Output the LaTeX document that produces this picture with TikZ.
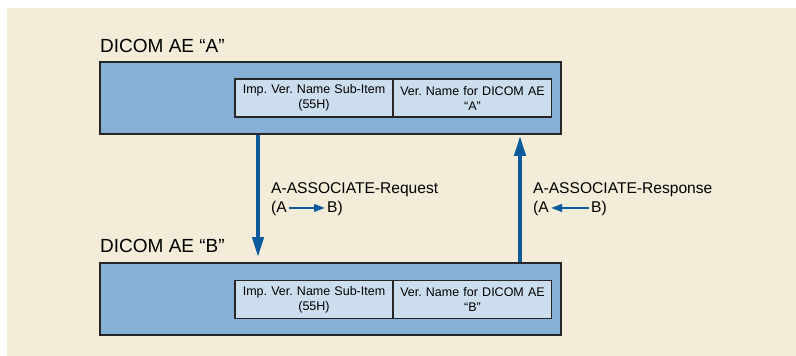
\documentclass[tikz,border=0pt]{standalone}
\usepackage{fontspec}
\setmainfont{Liberation Sans}
\usetikzlibrary{arrows.meta}
\frenchspacing

\definecolor{paper}{HTML}{F2ECD8}
\definecolor{aeblue}{HTML}{86B0D6}
\definecolor{cellblue}{HTML}{CCDDEE}
\definecolor{msgblue}{HTML}{0A5A9C}

\tikzset{
  aebox/.style={draw=black!85, line width=1.6pt, fill=aeblue, minimum width=461pt, minimum height=72pt},
  cell/.style={draw=black!85, line width=1.3pt, fill=cellblue, minimum width=158pt, minimum height=38pt,
    text width=154pt, align=center, inner sep=0pt, font=\fontsize{12.5}{15}\selectfont},
  aetitle/.style={anchor=base west, inner sep=0pt, font=\fontsize{19}{22}\selectfont},
  msgtext/.style={anchor=base west, inner sep=0pt, font=\fontsize{15.6}{19}\selectfont},
  msg/.style={msgblue, line width=4pt, -{Triangle[width=11pt,length=20pt]}},
  minimsg/.style={msgblue, line width=2.4pt, -{Triangle[width=7.5pt,length=11pt]}}
}

\begin{document}
\begin{tikzpicture}[x=1pt,y=-1pt]

\useasboundingbox (0,0) rectangle (796,356);
\fill[paper] (7,8) rectangle (796,356);

% application entity A
\node[aetitle] (titleA) at (100,52) {DICOM AE “A”};
\node[aebox] (aeA) at (330.5,98) {};
\node[cell] (impA) at (314,98) {Imp. Ver. Name Sub-Item\\(55H)};
\node[cell] (verA) at (472.5,98) {Ver. Name for DICOM AE\\“A”};

% application entity B
\node[aetitle] (titleB) at (100,252.5) {DICOM AE “B”};
\node[aebox] (aeB) at (330.5,299) {};
\node[cell] (impB) at (314,299.5) {Imp. Ver. Name Sub-Item\\(55H)};
\node[cell] (verB) at (472.5,299.5) {Ver. Name for DICOM AE\\“B”};

% request A -> B
\draw[msg, shorten >=5pt] (aeA.south -| 258,0) -- (aeB.north -| 258,0);
\node[msgtext] (reqTop) at (271,193) {A-ASSOCIATE-Request};
\node[msgtext] (reqA) at (271,212) {(A};
\node[msgtext] (reqB) at (327,212) {B)};
\draw[minimsg] ([xshift=2pt]reqA.east) -- ([xshift=-2pt]reqB.west);

% response B -> A
\draw[msg, shorten >=1pt] (aeB.north -| 520,0) -- (aeA.south -| 520,0);
\node[msgtext] (resTop) at (533,193) {A-ASSOCIATE-Response};
\node[msgtext] (resA) at (533,212) {(A};
\node[msgtext] (resB) at (591,212) {B)};
\draw[minimsg] ([xshift=-2pt]resB.west) -- ([xshift=2pt]resA.east);

\end{tikzpicture}
\end{document}
